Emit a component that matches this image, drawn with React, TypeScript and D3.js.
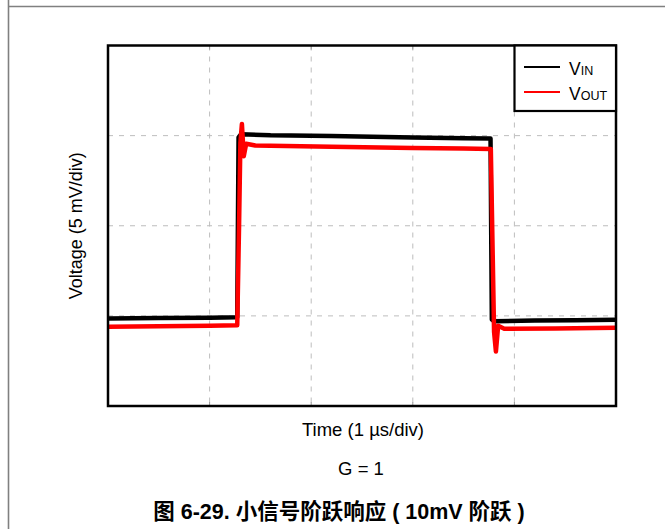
import React from "react";
import * as d3 from "d3";

// time in µs, voltage in mV (5 mV/div, 1 µs/div)
const vinSeries: [number, number][] = [
  [0, -5.15], [0.5, -5.12], [1.0, -5.1], [1.272, -5.08],
  [1.285, 4.9], [1.31, 5.08], [1.6, 5.02], [2.2, 4.98], [3.0, 4.9], [3.5, 4.85], [3.765, 4.84],
  [3.778, -5.2], [3.8, -5.3], [4.2, -5.25], [4.6, -5.24], [5.0, -5.22],
];
const voutSeries: [number, number][] = [
  [0, -5.6], [0.5, -5.57], [1.0, -5.55], [1.272, -5.52],
  [1.29, 0.0], [1.303, 4.6], [1.318, 5.65], [1.336, 3.85], [1.36, 4.55], [1.45, 4.45],
  [2.2, 4.38], [3.0, 4.32], [3.5, 4.28], [3.768, 4.26],
  [3.8, -5.9], [3.818, -6.98], [3.84, -5.55], [3.9, -5.72], [4.4, -5.7], [5.0, -5.66],
];
const xTicks = [0, 1, 2, 3, 4, 5];
const yTicks = [-10, -5, 0, 5, 10];
const legendNames = ["IN", "OUT"];
const seriesColors = ["#000000", "#ff0000"];

const FONT = "'Liberation Sans', Arial, 'Noto Sans CJK SC', sans-serif";

export default function App() {
  const left = 108, right = 616, top = 45.5, bottom = 406;
  const x = d3.scaleLinear().domain([0, 5]).range([left, right]);
  const y = d3.scaleLinear().domain([-10, 10]).range([bottom, top]);
  const line = d3
    .line<[number, number]>()
    .x((d) => x(d[0]))
    .y((d) => y(d[1]));

  const innerX = xTicks.slice(1, -1);
  const innerY = yTicks.slice(1, -1);

  return (
    <svg
      width={665}
      height={529}
      style={{ position: "absolute", left: 0, top: 0, background: "#fff" }}
    >
      {/* page frame */}
      <line x1={8.5} y1={0} x2={8.5} y2={529} stroke="#808080" strokeWidth={1.6} />
      <line x1={8} y1={6.5} x2={665} y2={6.5} stroke="#808080" strokeWidth={1.6} />

      <defs>
        <clipPath id="plotclip">
          <rect x={left} y={top} width={right - left} height={bottom - top} />
        </clipPath>
      </defs>

      {/* grid */}
      {innerX.map((t) => (
        <g key={"gx" + t}>
          <line x1={x(t)} x2={x(t)} y1={top} y2={bottom} stroke="#bdbdbd" strokeWidth={1} strokeDasharray="5,6" />
          <line x1={x(t)} x2={x(t)} y1={top} y2={top + 4} stroke="#999" strokeWidth={1} />
          <line x1={x(t)} x2={x(t)} y1={bottom - 4} y2={bottom} stroke="#999" strokeWidth={1} />
        </g>
      ))}
      {innerY.map((t) => (
        <g key={"gy" + t}>
          <line x1={left} x2={right} y1={y(t)} y2={y(t)} stroke="#bdbdbd" strokeWidth={1} strokeDasharray="5,6" />
        </g>
      ))}

      {/* traces */}
      <g clipPath="url(#plotclip)">
        <path d={line(vinSeries) || ""} fill="none" stroke={seriesColors[0]} strokeWidth={4.5} strokeLinejoin="round" />
        <path d={line(voutSeries) || ""} fill="none" stroke={seriesColors[1]} strokeWidth={4.5} strokeLinejoin="round" />
      </g>

      {/* plot border */}
      <rect x={left} y={top} width={right - left} height={bottom - top} fill="none" stroke="#000" strokeWidth={2.5} />

      {/* legend */}
      <rect x={514.5} y={top} width={right - 514.5} height={65.5} fill="#fff" stroke="#000" strokeWidth={2.2} />
      {legendNames.map((n, i) => (
        <g key={n}>
          <line x1={524} x2={560} y1={67 + i * 25} y2={67 + i * 25} stroke={seriesColors[i]} strokeWidth={2} />
          <text x={569} y={75 + i * 25} fontFamily={FONT} fontSize={17.5} fill="#000">
            V<tspan fontSize={12.5}>{n}</tspan>
          </text>
        </g>
      ))}

      {/* axis titles */}
      <text
        transform={`translate(82, ${(top + bottom) / 2}) rotate(-90)`}
        textAnchor="middle"
        fontFamily={FONT}
        fontSize={18}
        fill="#000"
      >
        Voltage (5 mV/div)
      </text>
      <text x={363} y={436} textAnchor="middle" fontFamily={FONT} fontSize={18.5} fill="#000">
        Time (1 µs/div)
      </text>
      <text x={361} y={475} textAnchor="middle" fontFamily={FONT} fontSize={18.5} fill="#000">
        G = 1
      </text>

      {/* caption */}
      <text x={339} y={519} textAnchor="middle" fontFamily={FONT} fontSize={21.5} fontWeight="bold" fill="#000">
        图 6-29. 小信号阶跃响应 ( 10mV 阶跃 )
      </text>
    </svg>
  );
}
